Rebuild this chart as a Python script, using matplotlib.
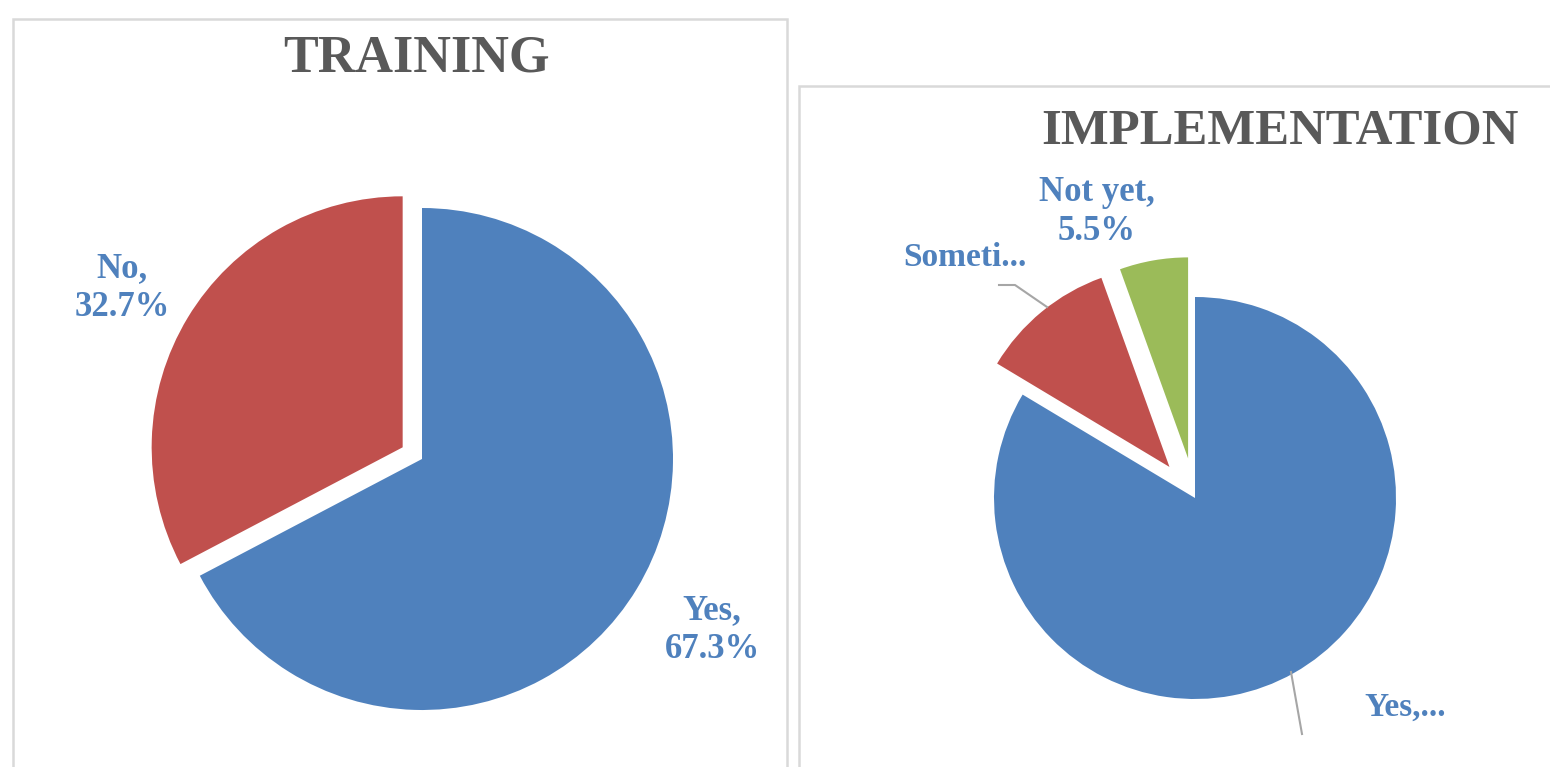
import matplotlib
matplotlib.use("Agg")
import matplotlib.pyplot as plt
from matplotlib.patches import Rectangle

# ---- data ----
train_labels = ["Yes", "No"]
train_values = [67.3, 32.7]
impl_labels = ["Yes", "Sometimes", "Not yet"]
impl_values = [83.6, 10.9, 5.5]

BLUE = "#4F81BD"
RED = "#C0504D"
GREEN = "#9BBB59"
TITLE_C = "#595959"
BORDER = "#D9D9D9"
FONT = "Liberation Serif"

W, H = 1550, 767
fig = plt.figure(figsize=(W / 100, H / 100), dpi=100)
fig.patch.set_facecolor("white")


def px_axes(cx, cy_top, R, pad=1.25):
    """axes so that radius 1 = R pixels, centered at pixel (cx, cy_top)."""
    size = 2 * pad * R
    cy = H - cy_top
    ax = fig.add_axes([(cx - size / 2) / W, (cy - size / 2) / H, size / W, size / H])
    ax.set_xlim(-pad, pad)
    ax.set_ylim(-pad, pad)
    ax.axis("off")
    return ax


# panel borders
fig.add_artist(Rectangle((13 / W, -0.05), (787 - 13) / W, (H - 19) / H + 0.05,
                         transform=fig.transFigure, fill=False, ec=BORDER, lw=1.8, zorder=0))
fig.add_artist(Rectangle((799 / W, -0.05), 0.6, (H - 86) / H + 0.05,
                         transform=fig.transFigure, fill=False, ec=BORDER, lw=1.8, zorder=0))

# ---- TRAINING ----
R1 = 251
ax1 = px_axes(422, 459, R1)
w1, _ = ax1.pie(train_values, colors=[BLUE, RED], startangle=90, counterclock=False,
                explode=[0, 0.09], radius=1, wedgeprops=dict(linewidth=0))
for w in w1:
    w.set_clip_on(False)

fig.text(416 / W, 1 - 59 / H, "TRAINING", ha="center", va="center",
         fontsize=37.5, fontweight="bold", color=TITLE_C, family=FONT)

LBL = dict(ha="center", va="center", fontsize=25, fontweight="bold",
           color=BLUE, family=FONT, linespacing=1.25)

ax1.text((122 - 422) / R1, (459 - 288) / R1,
         f"{train_labels[1]},\n{train_values[1]}%", **LBL)
ax1.text((712 - 422) / R1, (459 - 630) / R1,
         f"{train_labels[0]},\n{train_values[0]}%", **LBL)

# ---- IMPLEMENTATION ----
R2 = 201
cx2, cy2 = 1195, 498
ax2 = px_axes(cx2, cy2, R2)
w2, _ = ax2.pie(impl_values, colors=[BLUE, RED, GREEN], startangle=90, counterclock=False,
                explode=[0, 0.2, 0.2], radius=1, wedgeprops=dict(linewidth=0))
for w in w2:
    w.set_clip_on(False)

fig.text(1280 / W, 1 - 132 / H, "IMPLEMENTATION", ha="center", va="center",
         fontsize=36.5, fontweight="bold", color=TITLE_C, family=FONT)


def d(px, py):
    return ((px - cx2) / R2, (cy2 - py) / R2)


ax2.text(*d(1097, 212), f"{impl_labels[2]},\n{impl_values[2]}%", **LBL)
ax2.text(*d(965, 258), "Someti...", **{**LBL, "fontsize": 24})
ax2.text(*d(1405, 707), "Yes,...", **{**LBL, "fontsize": 24})

# leader lines
xs, ys = zip(d(999, 285), d(1015, 285), d(1047, 307))
ax2.plot(xs, ys, color="#A6A6A6", lw=1.5, clip_on=False)
xs, ys = zip(d(1291, 672), d(1302, 734))
ax2.plot(xs, ys, color="#A6A6A6", lw=1.5, clip_on=False)

fig.savefig("out.png", dpi=100, facecolor="white")
